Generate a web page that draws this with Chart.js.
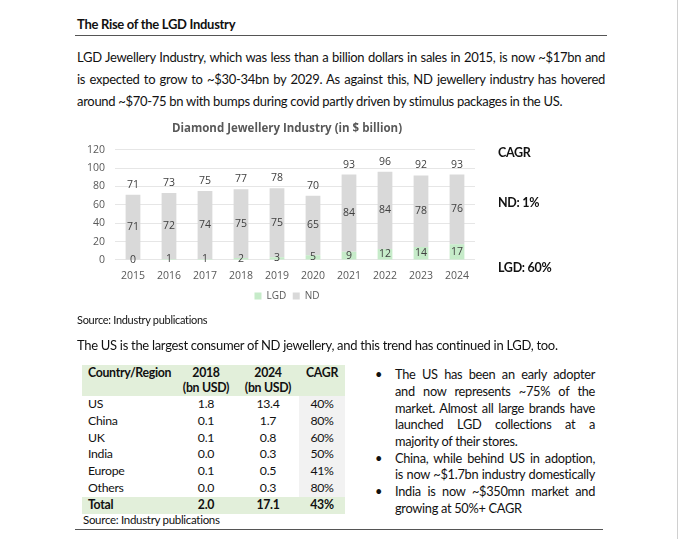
<!DOCTYPE html>
<html>
<head>
<meta charset="utf-8">
<script src="https://cdn.jsdelivr.net/npm/chart.js@4.4.1/dist/chart.umd.min.js"></script>
<style>
  html, body { margin: 0; padding: 0; background: #fff; }
  body { width: 680px; height: 539px; position: relative; overflow: hidden; font-family: Lato, "Open Sans", sans-serif; color: #111; letter-spacing: -0.3px; }
  .abs { position: absolute; white-space: nowrap; }
  .jl { text-align: justify; text-align-last: justify; }
  .rule { position: absolute; height: 0; border-top: 1.5px solid #555; }
  #chartBox { position: absolute; left: 70px; top: 118px; width: 434px; height: 198px; letter-spacing: 0; }
  table.lgd { position: absolute; left: 82px; top: 365px; border-collapse: collapse; font-size: 12.3px; }
  table.lgd td { padding: 0; height: 16.8px; line-height: 16.8px; text-align: center; }
  table.lgd td:first-child { text-align: left; padding-left: 6px; }
  table.lgd tr.hd td { background: #e2efda; font-weight: bold; height: 30px; line-height: 14.5px; vertical-align: top; padding-top: 1px; }
  table.lgd tr.tot td { background: #e2efda; font-weight: bold; }
  table.lgd td.g { background: #f2f2f2; }
  .bul { position: absolute; left: 375px; font-size: 12.8px; }
  .bl { font-size: 12.8px; }
  .cagr { position: absolute; left: 498px; font-weight: bold; font-size: 12.5px; }
</style>
</head>
<body>
<div style="position:absolute;left:677px;top:0;width:1px;height:539px;background:#d0d0d0"></div>

<div class="abs" style="left:77px;top:16px;font-size:13px;font-weight:bold;">The Rise of the LGD Industry</div>
<div class="rule" style="left:75px;top:35px;width:532px;"></div>

<div class="abs jl" style="left:77px;top:49px;width:528px;font-size:13px;">LGD Jewellery Industry, which was less than a billion dollars in sales in 2015, is now ~$17bn and</div>
<div class="abs jl" style="left:77px;top:71px;width:528px;font-size:13px;">is expected to grow to ~$30-34bn by 2029. As against this, ND jewellery industry has hovered</div>
<div class="abs" style="left:77px;top:93px;font-size:13px;">around ~$70-75 bn with bumps during covid partly driven by stimulus packages in the US.</div>

<div id="chartBox"><canvas id="lgdChart"></canvas></div>

<div class="cagr" style="top:145px;">CAGR</div>
<div class="cagr" style="top:195px;">ND: 1%</div>
<div class="cagr" style="top:260px;">LGD: 60%</div>

<div class="abs" style="left:77px;top:313px;font-size:11px;">Source: Industry publications</div>

<div class="abs" style="left:77px;top:337px;font-size:13px;">The US is the largest consumer of ND jewellery, and this trend has continued in LGD, too.</div>

<table class="lgd">
  <colgroup><col style="width:93px"><col style="width:62px"><col style="width:62px"><col style="width:46px"></colgroup>
  <tr class="hd"><td>Country/Region</td><td>2018<br>(bn USD)</td><td>2024<br>(bn USD)</td><td>CAGR</td></tr>
  <tr><td>US</td><td>1.8</td><td>13.4</td><td class="g">40%</td></tr>
  <tr><td>China</td><td>0.1</td><td>1.7</td><td class="g">80%</td></tr>
  <tr><td>UK</td><td>0.1</td><td>0.8</td><td class="g">60%</td></tr>
  <tr><td>India</td><td>0.0</td><td>0.3</td><td class="g">50%</td></tr>
  <tr><td>Europe</td><td>0.1</td><td>0.5</td><td class="g">41%</td></tr>
  <tr><td>Others</td><td>0.0</td><td>0.3</td><td class="g">80%</td></tr>
  <tr class="tot"><td>Total</td><td>2.0</td><td>17.1</td><td>43%</td></tr>
</table>
<div class="abs" style="left:83px;top:513px;font-size:11.5px;">Source: Industry publications</div>

<div class="bul" style="top:366px;">&#8226;</div>
<div class="abs jl bl" style="left:395px;top:366px;width:200px;">The US has been an early adopter</div>
<div class="abs jl bl" style="left:395px;top:383px;width:200px;">and now represents ~75% of the</div>
<div class="abs jl bl" style="left:395px;top:399.5px;width:200px;">market. Almost all large brands have</div>
<div class="abs jl bl" style="left:395px;top:416px;width:200px;">launched LGD collections at a</div>
<div class="abs bl" style="left:395px;top:433px;">majority of their stores.</div>
<div class="bul" style="top:449.5px;">&#8226;</div>
<div class="abs jl bl" style="left:395px;top:449.5px;width:200px;">China, while behind US in adoption,</div>
<div class="abs jl bl" style="left:395px;top:466px;width:200px;">is now ~$1.7bn industry domestically</div>
<div class="bul" style="top:483px;">&#8226;</div>
<div class="abs jl bl" style="left:395px;top:483px;width:200px;">India is now ~$350mn market and</div>
<div class="abs bl" style="left:395px;top:499.5px;">growing at 50%+ CAGR</div>

<div class="rule" style="left:75px;top:529px;width:528px;"></div>

<script>
/**
 * CHART DATA
 */
const years = ['2015', '2016', '2017', '2018', '2019', '2020', '2021', '2022', '2023', '2024'];
const lgdValues = [0, 1, 1, 2, 3, 5, 9, 12, 14, 17];
const ndValues = [71, 72, 74, 75, 75, 65, 84, 84, 78, 76];
const yTicks = [0, 20, 40, 60, 80, 100, 120];

const totals = years.map((y, i) => lgdValues[i] + ndValues[i]);
const axisGrey = '#595959';

// value labels inside each segment + total above the stack
const barLabels = {
    id: 'barLabels',
    afterDatasetsDraw(chart) {
        const ctx = chart.ctx;
        ctx.save();
        ctx.font = '10.5px "Open Sans"';
        ctx.fillStyle = '#404040';
        ctx.textAlign = 'center';
        ctx.textBaseline = 'middle';
        chart.data.datasets.forEach((ds, di) => {
            chart.getDatasetMeta(di).data.forEach((bar, i) => {
                ctx.fillText(ds.data[i], bar.x, (bar.y + bar.base) / 2);
            });
        });
        chart.getDatasetMeta(1).data.forEach((bar, i) => {
            ctx.fillText(totals[i], bar.x, bar.y - 10);
        });
        ctx.restore();
    }
};

new Chart(document.getElementById('lgdChart'), {
    type: 'bar',
    data: {
        labels: years,
        datasets: [
            { label: 'LGD', data: lgdValues, backgroundColor: '#c6ebc9', categoryPercentage: 0.82, barPercentage: 0.5 },
            { label: 'ND', data: ndValues, backgroundColor: '#d9d9d9', categoryPercentage: 0.82, barPercentage: 0.5 }
        ]
    },
    options: {
        responsive: true,
        maintainAspectRatio: false,
        animation: false,
        layout: { padding: { bottom: 5 } },
        plugins: {
            title: {
                display: true,
                text: 'Diamond Jewellery Industry (in $ billion)',
                color: axisGrey,
                font: { family: '"Open Sans"', size: 11.5, weight: 'bold' },
                padding: { top: 4, bottom: 14 }
            },
            legend: {
                position: 'bottom',
                labels: { color: axisGrey, boxWidth: 7, boxHeight: 7, padding: 6.5, font: { family: '"Open Sans"', size: 10 } }
            },
            tooltip: { enabled: false }
        },
        scales: {
            x: {
                stacked: true,
                grid: { display: false },
                border: { display: false },
                ticks: { color: axisGrey, font: { family: '"Open Sans"', size: 10.5 }, padding: 2 }
            },
            y: {
                stacked: true,
                min: yTicks[0],
                max: yTicks[yTicks.length - 1],
                afterBuildTicks: (axis) => { axis.ticks = yTicks.map(v => ({ value: v })); },
                afterFit: (axis) => { axis.width = 45; },
                grid: { color: '#e6e6e6', drawTicks: false },
                border: { display: false },
                ticks: { color: axisGrey, font: { family: '"Open Sans"', size: 10.5 }, padding: 10 }
            },
            // empty right-hand spacer so the title and legend centre on the wider box
            yRight: {
                position: 'right',
                grid: { display: false },
                border: { display: false },
                ticks: { display: false },
                afterFit: (axis) => { axis.width = 29; }
            }
        }
    },
    plugins: [barLabels]
});
</script>
</body>
</html>
